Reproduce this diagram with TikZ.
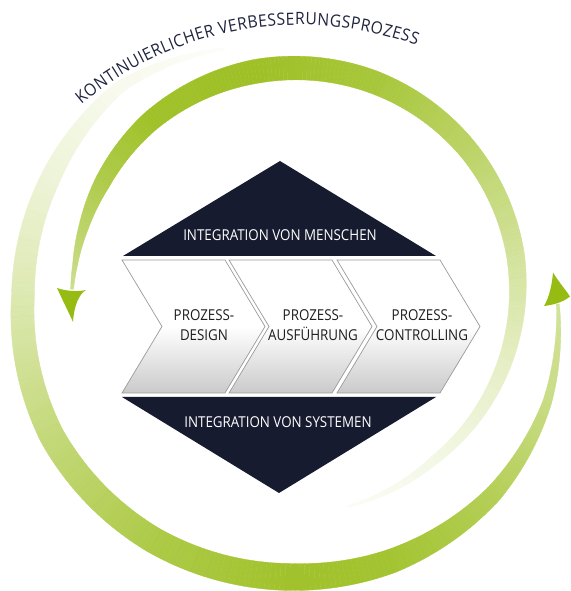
\documentclass[tikz,border=0pt]{standalone}
\usepackage{fontspec}
\usetikzlibrary{decorations.text}
\newfontfamily\labelfont[FakeStretch=0.89]{Open Sans}
\newfontfamily\titlefont[FakeStretch=0.92]{Open Sans}
\definecolor{grn}{HTML}{9BBE1E}
\definecolor{grnhead}{HTML}{96BB12}
\definecolor{navy}{HTML}{161B30}
\definecolor{titlecol}{HTML}{1E2440}
\definecolor{chevline}{HTML}{9A9A9A}
\definecolor{chevgray}{HTML}{CACACA}
\definecolor{txtdark}{HTML}{1E1E1E}

\newcommand\ringpart[1]{%
  \foreach \qta/\qra/\qwa/\qpa/\qtb/\qrb/\qwb/\qpb in {#1}{%
    \pgfmathtruncatemacro\qn{max(1,round(abs(\qtb-\qta)))}%
    \foreach \qk in {1,...,\qn}{%
      \pgfmathsetmacro\qua{(\qk-1)/\qn}%
      \pgfmathsetmacro\qub{\qk/\qn}%
      \pgfmathsetmacro\qthA{\qta+(\qtb-\qta)*\qua}%
      \pgfmathsetmacro\qthB{\qta+(\qtb-\qta)*\qub}%
      \pgfmathsetmacro\qrA{\qra+(\qrb-\qra)*\qua}%
      \pgfmathsetmacro\qrB{\qra+(\qrb-\qra)*\qub}%
      \pgfmathsetmacro\qwA{(\qwa+(\qwb-\qwa)*\qua)/2}%
      \pgfmathsetmacro\qwB{(\qwa+(\qwb-\qwa)*\qub)/2}%
      \pgfmathsetmacro\qAi{\qrA-\qwA}%
      \pgfmathsetmacro\qAo{\qrA+\qwA}%
      \pgfmathsetmacro\qBi{\qrB-\qwB}%
      \pgfmathsetmacro\qBo{\qrB+\qwB}%
      \pgfmathtruncatemacro\qp{\qpa+(\qpb-\qpa)*(\qua+\qub)/2}%
      \fill[grn!\qp!white, draw=grn!\qp!white, line width=0.3pt]
        (\qthA:\qAi) -- (\qthA:\qAo) -- (\qthB:\qBo) -- (\qthB:\qBi) -- cycle;
    }%
  }%
}

\begin{document}
\begin{tikzpicture}[x=1pt,y=1pt,
  lbl/.style={inner sep=0pt, align=center, font=\labelfont\fontsize{15}{19.5}\selectfont},
  chev/.style={draw=chevline, line width=0.7pt, top color=white, bottom color=chevgray, middle color=white},
  headfill/.style={fill=grnhead}]
\useasboundingbox (0,0) rectangle (570,591);
\clip (0,0) rectangle (570,591);

% rings
\begin{scope}[shift={(295,296)}]
  % inner ring (top crescent)
  \ringpart{178.5/223/3/50/172/222/5/58, 172/222/5/58/162/222/10/68,
    162/222/10/68/150/223/16/80, 150/223/16/80/130/226/20/95,
    130/226/20/95/100/227/24/97, 100/227/24/97/70/227/23/88,
    70/227/23/88/40/226/20/68, 40/226/20/68/10/224/18/45,
    10/224/18/45/-20/220/14/25, -20/220/14/25/-50/216/9/12,
    -50/216/9/12/-76/218/2/4}
  % outer ring (bottom crescent)
  \ringpart{-2/263/3/45/-12/268/6/50, -12/268/6/50/-23/274/9/55,
    -23/274/9/55/-45/281/17/75, -45/281/17/75/-70/283/24/92,
    -70/283/24/92/-90/282/27/95, -90/282/27/95/-120/283/26/82,
    -120/283/26/82/-150/281/25/60, -150/281/25/60/-180/272/23/35,
    -180/272/23/35/-205/271/20/18, -205/271/20/18/-230/272/12/8,
    -230/272/12/8/-254/256/2/3}
\end{scope}

% arrow heads
\fill[headfill] (57,303) .. controls (65,300) and (78,299) .. (86,301)
  .. controls (79,297) and (74,285) .. (73,269)
  .. controls (69,278) and (62,292) .. cycle;
\fill[headfill] (544,285) .. controls (552,286) and (562,288) .. (570,294.5)
  .. controls (565,302) and (558,310) .. (553,318.5)
  .. controls (552,306) and (549,293) .. cycle;

% diamond halves
\fill[navy] (123,335) -- (436,335) -- (280,430) -- cycle;
\fill[navy] (122,194) -- (436,194) -- (279,98) -- cycle;

% chevrons
\foreach \cx in {122,229,337}{
  \path[chev] (\cx,331) -- ++(103,0) -- ++(40,-66.5) -- ++(-40,-66.5)
    -- ++(-103,0) -- ++(40,66.5) -- cycle;
}

% texts
\node[lbl, text=white] (men) at (280,355.5) {INTEGRATION VON MENSCHEN};
\node[lbl, text=white] (sys) at (278,169) {INTEGRATION VON SYSTEMEN};
\node[lbl, text=txtdark] (design) at (204,266) {PROZESS-\\DESIGN};
\node[lbl, text=txtdark] (ausf) at (313,266) {PROZESS-\\AUSFÜHRUNG};
\node[lbl, text=txtdark] (contr) at (422,266) {PROZESS-\\CONTROLLING};

% title on arc
\path[decorate, decoration={text along path,
    text={|\titlefont\fontsize{17}{19}\selectfont|KONTINUIERLICHER VERBESSERUNGSPROZESS},
    text align={fit to path}, text color=titlecol}]
  (300,226) ++(130:340) arc[start angle=130, end angle=70, radius=340pt];
\end{tikzpicture}
\end{document}
